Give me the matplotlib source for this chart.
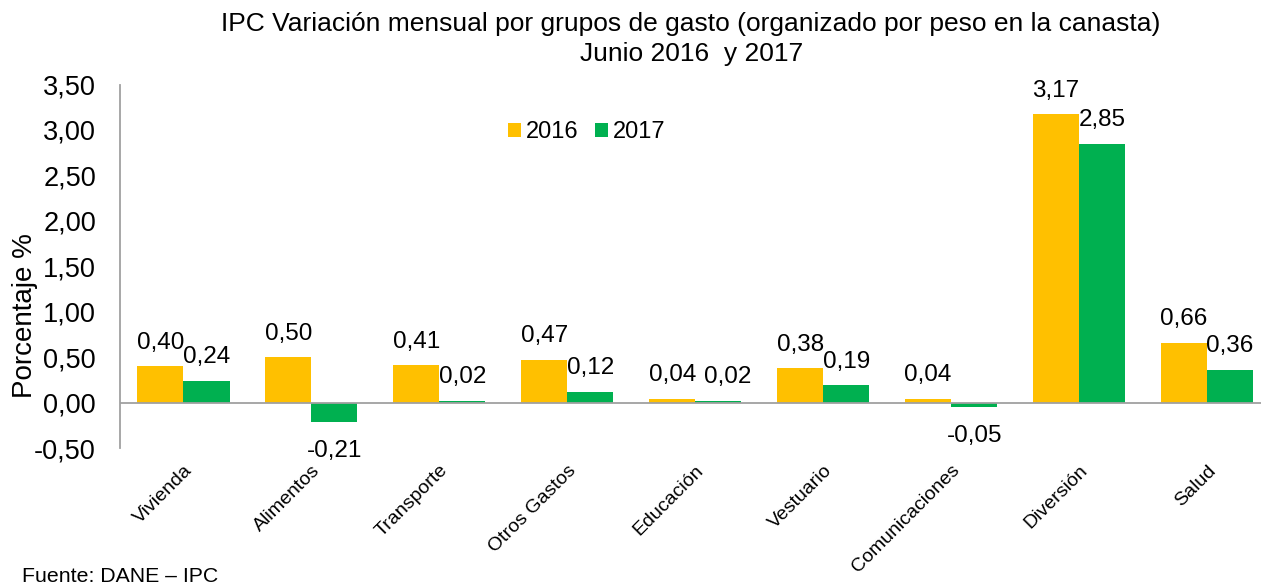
import numpy as np
import matplotlib.pyplot as plt
from matplotlib.transforms import ScaledTranslation

plt.rcParams["font.family"] = ["Liberation Sans", "DejaVu Sans"]

categorias = ["Vivienda", "Alimentos", "Transporte", "Otros Gastos", "Educación",
              "Vestuario", "Comunicaciones", "Diversión", "Salud"]
v2016 = [0.40, 0.50, 0.41, 0.47, 0.04, 0.38, 0.04, 3.17, 0.66]
v2017 = [0.24, -0.21, 0.02, 0.12, 0.02, 0.19, -0.05, 2.85, 0.36]
y_ticks = [-0.5, 0.0, 0.5, 1.0, 1.5, 2.0, 2.5, 3.0, 3.5]

W, H = 1261, 584
fig = plt.figure(figsize=(W / 100, H / 100), dpi=100)
ax = fig.add_axes([119.5 / W, 1 - 448 / H, (W - 119.5) / W, (448 - 84.5) / H])

x = np.arange(len(categorias))
bw = 0.36
b1 = ax.bar(x - bw / 2, v2016, bw, color="#FFC000", label="2016")
b2 = ax.bar(x + bw / 2, v2017, bw, color="#00B050", label="2017")

def fmt(v):
    return f"{v:.2f}".replace(".", ",")

for k, (bars, vals) in enumerate(((b1, v2016), (b2, v2017))):
    for i, (b, v) in enumerate(zip(bars, vals)):
        cx = b.get_x() + b.get_width() / 2
        # Excel nudged the crowded Educación 2017 label to the right
        dx = 7 if (k == 1 and categorias[i] == "Educación") else 0
        if v >= 0:
            ax.annotate(fmt(v), (cx, v), xytext=(dx, 9), textcoords="offset points",
                        ha="center", va="bottom", fontsize=17.5)
        else:
            ax.annotate(fmt(v), (cx, v), xytext=(dx, -13), textcoords="offset points",
                        ha="center", va="top", fontsize=17.5)

ax.set_xlim(-0.5, len(categorias) - 0.5 - 10 / 128)
ax.set_ylim(-0.5, 3.5)
ax.set_yticks(y_ticks)
ax.set_yticklabels([fmt(t) for t in y_ticks], fontsize=19.5)
ax.set_xticks(x)
ax.set_xticklabels(categorias, rotation=45, ha="right", rotation_mode="anchor", fontsize=14)
shift = ScaledTranslation(2 / 100, 0, fig.dpi_scale_trans)
for lbl in ax.get_xticklabels():
    lbl.set_transform(lbl.get_transform() + shift)
ax.tick_params(axis="both", length=0)
ax.tick_params(axis="x", pad=10)
ax.tick_params(axis="y", pad=17)

for s in ("top", "right", "bottom"):
    ax.spines[s].set_visible(False)
ax.spines["left"].set_color("#A0A0A0")
ax.spines["left"].set_linewidth(1.3)
ax.axhline(0, color="#A0A0A0", lw=1.3)

ax.set_ylabel("Porcentaje %", fontsize=20)
ax.yaxis.set_label_coords(-82 / (W - 119.5), (448 - 316) / (448 - 84.5))

ax.legend(loc="center", bbox_to_anchor=(587 / W, 1 - 132 / H), bbox_transform=fig.transFigure,
          ncol=2, frameon=False, fontsize=17, handlelength=0.55, handleheight=0.55,
          handletextpad=0.2, columnspacing=0.7)

fig.text(691 / W, 1 - 24 / H, "IPC Variación mensual por grupos de gasto (organizado por peso en la canasta)",
         ha="center", va="center", fontsize=19)
fig.text(692 / W, 1 - 54 / H, "Junio 2016  y 2017", ha="center", va="center", fontsize=19)
fig.text(22 / W, 1 - 576 / H, "Fuente: DANE – IPC", ha="left", va="center", fontsize=15.3)

fig.savefig("out.png", dpi=100)
